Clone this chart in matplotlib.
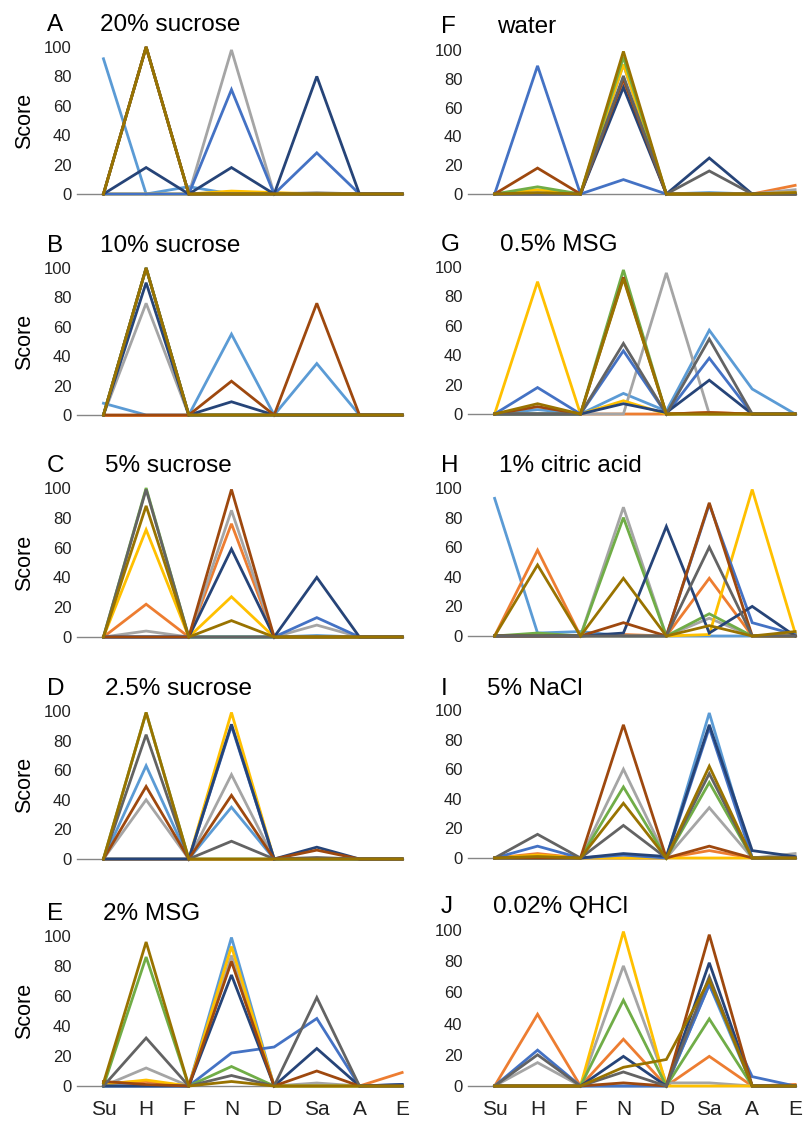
import matplotlib
matplotlib.use("Agg")
import matplotlib.pyplot as plt

plt.rcParams['font.family'] = ['Liberation Sans', 'DejaVu Sans']

categories = ["Su", "H", "F", "N", "D", "Sa", "A", "E"]
series_colors = ["#5B9BD5", "#ED7D31", "#A5A5A5", "#FFC000", "#4472C4",
                 "#70AD47", "#264478", "#9E480E", "#636363", "#997300"]
yticks = [0, 20, 40, 60, 80, 100]

# each panel: 10 series (rows) x 8 categories
panel_A = [
    [92, 0, 5, 0, 0, 0, 0, 0],
    [0, 100, 0, 0, 0, 0, 0, 0],
    [0, 0, 0, 98, 0, 1, 0, 0],
    [0, 0, 0, 2, 1, 0, 0, 0],
    [0, 0, 0, 71, 0, 28, 0, 0],
    [0, 100, 0, 0, 0, 0, 0, 0],
    [0, 18, 0, 18, 0, 80, 0, 0],
    [0, 100, 0, 0, 0, 0, 0, 0],
    [0, 100, 0, 0, 0, 0, 0, 0],
    [0, 100, 0, 0, 0, 0, 0, 0],
]
panel_B = [
    [8, 0, 0, 55, 0, 35, 0, 0],
    [0, 0, 0, 0, 0, 0, 0, 0],
    [0, 76, 0, 0, 0, 0, 0, 0],
    [0, 100, 0, 0, 0, 0, 0, 0],
    [0, 100, 0, 0, 0, 0, 0, 0],
    [0, 100, 0, 0, 0, 0, 0, 0],
    [0, 90, 0, 9, 0, 0, 0, 0],
    [0, 0, 0, 23, 0, 76, 0, 0],
    [0, 100, 0, 0, 0, 0, 0, 0],
    [0, 100, 0, 0, 0, 0, 0, 0],
]
panel_C = [
    [0, 0, 0, 0, 0, 1, 0, 0],
    [0, 22, 0, 76, 0, 0, 0, 0],
    [0, 4, 0, 85, 0, 8, 0, 0],
    [0, 72, 0, 27, 0, 0, 0, 0],
    [0, 0, 0, 0, 0, 13, 0, 0],
    [0, 100, 0, 0, 0, 0, 0, 0],
    [0, 0, 0, 59, 0, 40, 0, 0],
    [0, 0, 0, 99, 0, 0, 0, 0],
    [0, 99, 0, 0, 0, 0, 0, 0],
    [0, 88, 0, 11, 0, 0, 0, 0],
]
panel_D = [
    [0, 63, 0, 35, 0, 0, 0, 0],
    [0, 0, 0, 0, 0, 0, 0, 0],
    [0, 40, 0, 57, 0, 0, 0, 0],
    [0, 0, 0, 99, 0, 0, 0, 0],
    [0, 0, 0, 90, 0, 0, 0, 0],
    [0, 99, 0, 0, 0, 0, 0, 0],
    [0, 0, 0, 91, 0, 8, 0, 0],
    [0, 49, 0, 43, 0, 6, 0, 0],
    [0, 84, 0, 12, 0, 1, 0, 0],
    [0, 99, 0, 0, 0, 0, 0, 0],
]
panel_E = [
    [0, 0, 0, 99, 0, 0, 0, 0],
    [2, 3, 0, 84, 0, 0, 0, 9],
    [0, 12, 0, 87, 0, 2, 0, 0],
    [1, 4, 0, 93, 0, 0, 0, 0],
    [0, 0, 0, 22, 26, 45, 0, 1],
    [0, 86, 0, 13, 0, 0, 0, 0],
    [0, 0, 0, 74, 0, 25, 0, 1],
    [3, 1, 0, 83, 0, 10, 0, 0],
    [0, 32, 0, 7, 0, 59, 0, 0],
    [2, 96, 0, 3, 0, 0, 0, 0],
]
panel_F = [
    [0, 0, 0, 90, 0, 1, 0, 1],
    [0, 0, 0, 78, 0, 0, 0, 6],
    [0, 0, 0, 80, 0, 0, 0, 3],
    [0, 3, 0, 90, 0, 0, 0, 1],
    [0, 89, 0, 10, 0, 0, 0, 0],
    [0, 5, 0, 95, 0, 0, 0, 0],
    [0, 0, 0, 74, 0, 25, 0, 0],
    [0, 18, 0, 80, 0, 0, 0, 0],
    [0, 0, 0, 82, 0, 16, 0, 0],
    [0, 1, 0, 99, 0, 0, 0, 1],
]
panel_G = [
    [0, 3, 0, 14, 2, 57, 17, 0],
    [0, 0, 0, 0, 0, 1, 0, 0],
    [0, 0, 0, 0, 96, 0, 0, 0],
    [0, 90, 0, 9, 0, 0, 0, 0],
    [0, 18, 0, 43, 0, 38, 0, 0],
    [0, 0, 0, 98, 0, 0, 0, 0],
    [0, 0, 0, 7, 1, 23, 0, 0],
    [0, 5, 0, 93, 0, 1, 0, 0],
    [0, 0, 0, 48, 0, 51, 0, 0],
    [0, 7, 0, 92, 0, 0, 0, 0],
]
panel_H = [
    [93, 2, 3, 0, 0, 0, 0, 0],
    [0, 58, 0, 1, 0, 39, 0, 0],
    [0, 0, 0, 87, 0, 12, 0, 0],
    [0, 0, 0, 0, 0, 1, 99, 2],
    [0, 0, 0, 0, 0, 89, 9, 1],
    [0, 2, 0, 80, 0, 15, 0, 0],
    [0, 0, 0, 2, 74, 2, 20, 0],
    [0, 0, 0, 9, 0, 90, 0, 0],
    [0, 0, 0, 0, 0, 60, 0, 0],
    [0, 48, 0, 39, 0, 7, 0, 3],
]
panel_I = [
    [0, 0, 0, 0, 0, 98, 0, 0],
    [0, 3, 0, 0, 0, 5, 0, 0],
    [0, 0, 0, 60, 0, 34, 0, 3],
    [0, 2, 0, 0, 0, 0, 0, 0],
    [0, 8, 0, 2, 0, 88, 0, 0],
    [0, 0, 0, 48, 0, 51, 0, 0],
    [0, 0, 0, 3, 1, 90, 5, 1],
    [0, 0, 0, 90, 0, 8, 0, 0],
    [0, 16, 0, 22, 0, 57, 0, 0],
    [0, 1, 0, 37, 0, 62, 0, 0],
]
panel_J = [
    [0, 0, 0, 0, 0, 65, 0, 0],
    [0, 46, 0, 30, 0, 19, 0, 1],
    [0, 15, 0, 77, 2, 2, 0, 0],
    [0, 0, 0, 99, 0, 0, 0, 0],
    [0, 23, 0, 0, 0, 65, 6, 0],
    [0, 0, 0, 55, 0, 43, 0, 0],
    [0, 0, 0, 19, 0, 79, 0, 0],
    [0, 0, 0, 2, 0, 97, 0, 0],
    [0, 20, 0, 9, 0, 70, 0, 0],
    [0, 0, 0, 12, 17, 68, 0, 0],
]

letters = ["A", "B", "C", "D", "E", "F", "G", "H", "I", "J"]
titles = ["20% sucrose", "10% sucrose", "5% sucrose", "2.5% sucrose", "2% MSG",
          "water", "0.5% MSG", "1% citric acid", "5% NaCl", "0.02% QHCl"]
panels = [panel_A, panel_B, panel_C, panel_D, panel_E,
          panel_F, panel_G, panel_H, panel_I, panel_J]

W, H = 804, 1124
fig = plt.figure(figsize=(W / 100, H / 100), dpi=100)

# pixel geometry: (left, right, y_at_100, y_at_0)
geom = [
    (77, 403, 47, 194), (77, 403, 268, 415), (77, 403, 488, 637),
    (77, 403, 711, 859), (77, 403, 936, 1086),
    (468, 796, 50, 194), (468, 796, 267, 414), (468, 796, 488, 636),
    (468, 796, 710, 858), (468, 796, 930, 1086),
]
title_y = [31, 252, 472, 695, 920, 33, 251, 472, 695, 913]
letter_x = [47, 47, 47, 47, 47, 441, 441, 441, 441, 441]
title_x = [100, 100, 105, 105, 103, 497, 500, 499, 487, 493]

x = list(range(len(categories)))
for i, (data, (l, r, t, b)) in enumerate(zip(panels, geom)):
    ax = fig.add_axes([l / W, 1 - b / H, (r - l) / W, (b - t) / H])
    for k, vals in enumerate(data):
        ax.plot(x, vals, color=series_colors[k], lw=2.0, zorder=2 + k,
                clip_on=False, solid_joinstyle='miter')
    ax.set_xlim(-0.62, 7.02)
    ax.set_ylim(0, 100)
    ax.set_yticks(yticks)
    ax.tick_params(axis='y', labelsize=12, length=0, pad=4, colors='#222222')
    ax.tick_params(axis='x', length=0)
    for s in ['top', 'right']:
        ax.spines[s].set_visible(False)
    ax.spines['left'].set_visible(False)
    ax.spines['bottom'].set_color('#868686')
    ax.spines['bottom'].set_linewidth(1.0)
    ax.spines['bottom'].set_zorder(1)
    ax.set_xticks(x)
    if i in (4, 9):
        ax.set_xticklabels(categories, fontsize=15)
        ax.tick_params(axis='x', pad=10, colors='#222222')
    else:
        ax.set_xticklabels([])
    ax.patch.set_alpha(0)
    fig.text(letter_x[i] / W, 1 - title_y[i] / H, letters[i], fontsize=17.5,
             va='baseline', ha='left')
    fig.text(title_x[i] / W, 1 - title_y[i] / H, titles[i], fontsize=17.5,
             va='baseline', ha='left')
    if i < 5:
        fig.text(25 / W, 1 - ((t + b) / 2) / H, "Score", fontsize=15.5,
                 rotation=90, va='center', ha='center')

fig.savefig("out.png", dpi=100)
